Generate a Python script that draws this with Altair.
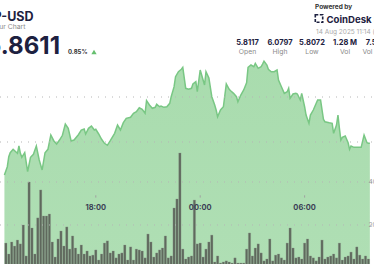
import altair as alt
import pandas as pd

# ---------------- data ----------------
price_times = ["12:45","12:55","13:00","13:05","13:15","13:25","13:30","13:35","13:40","13:45",
"13:55","14:05","14:15","14:25","14:35","14:45","14:55","15:05","15:15","15:25",
"15:35","15:45","15:55","16:05","16:15","16:25","16:35","16:45","17:00","17:10",
"17:20","17:25","17:35","17:45","17:55","18:00","18:10","18:20","18:30","18:40",
"18:50","19:05","19:15","19:25","19:35","19:45","20:00","20:10","20:20","20:30",
"20:40","20:50","20:55","21:05","21:15","21:25","21:30","21:40","21:45","21:55",
"22:05","22:15","22:20","22:30","22:35","22:45","22:55","23:00","23:10","23:20",
"23:30","23:35","23:45","23:50","00:00","00:05","00:15","00:20","00:30","00:40",
"00:50","00:55","01:00","01:10","01:20","01:30","01:40","01:45","01:55","02:05",
"02:10","02:20","02:30","02:40","02:45","02:55","03:05","03:10","03:20","03:30",
"03:35","03:40","03:50","03:55","04:05","04:15","04:25","04:30","04:40","04:50",
"05:00","05:05","05:10","05:20","05:30","05:35","05:45","05:50","06:00","06:05",
"06:15","06:20","06:30","06:40","06:45","06:55","07:05","07:10","07:25","07:35",
"07:40","07:50","07:55","08:00","08:05","08:10","08:20","08:30","08:35","08:40",
"08:50","09:00","09:15","09:25","09:35","09:40","09:45"]
price_values = [5.8267,5.8451,5.8673,5.8762,5.8838,5.8778,5.8749,5.8911,5.8749,5.8660,
5.8762,5.8340,5.8660,5.8727,5.8911,5.8600,5.8378,5.8762,5.8838,5.9156,
5.9029,5.8956,5.9044,5.9149,5.9400,5.9304,5.9022,5.9044,5.9162,5.9267,
5.9289,5.9178,5.9304,5.9356,5.9267,5.9282,5.9178,5.9060,5.8971,5.8927,
5.9029,5.9193,5.9378,5.9267,5.9429,5.9527,5.9549,5.9638,5.9673,5.9762,
5.9727,5.9638,5.9918,5.9822,5.9749,5.9771,5.9838,5.9784,5.9800,5.9771,
5.9784,5.9860,6.0007,6.0229,6.0451,6.0562,6.0616,6.0660,6.0193,6.0171,
6.0193,6.0289,6.0340,6.0118,6.0600,6.0489,6.0267,6.0562,6.0422,6.0007,
5.9822,5.9711,5.9562,5.9711,5.9784,6.0289,6.0171,6.0140,6.0082,6.0007,
5.9896,6.0044,6.0156,6.0318,6.0660,6.0711,6.0673,6.0749,6.0638,6.0673,
6.0733,6.0797,6.0711,6.0616,6.0562,6.0562,6.0600,6.0378,6.0229,6.0082,
6.0118,6.0193,5.9971,6.0067,6.0082,6.0067,5.9933,6.0082,5.9784,5.9600,
5.9416,5.9600,5.9711,5.9860,5.9933,5.9933,5.9504,5.9451,5.9429,5.9416,
5.9193,5.9378,5.9600,5.9304,5.9044,5.9104,5.9133,5.8984,5.8838,5.8911,
5.8882,5.8882,5.8882,5.9156,5.8984,5.8971,5.8971]

# 10-minute volume bars (thousands), first bar at 12:50
vol_first = "2025-08-13T12:50:00Z"
vol_values = [11.6,6.5,12.1,10.2,13.0,11.2,20.0,5.6,40.0,18.6,
6.5,23.3,36.3,24.2,24.2,25.1,12.1,5.1,13.5,17.2,
10.2,19.1,8.8,14.9,9.3,6.5,10.7,6.5,7.9,5.6,
6.0,8.4,3.7,6.5,11.6,12.6,7.0,7.9,4.7,6.5,
7.0,10.7,
3.7,9.8,3.7,8.8,8.4,7.9,4.7,15.8,12.1,5.1,
7.0,8.4,9.3,14.9,4.7,5.6,27.9,32.1,53.5,8.8,
4.2,5.1,5.6,31.6,11.2,11.6,5.1,8.8,12.1,15.3,
2.8,5.6,2.3,2.8,3.3,2.8,2.3,4.7,2.3,2.3,
2.3,8.8,
16.3,5.6,9.3,11.2,7.0,3.3,4.2,13.5,3.3,6.0,
6.5,4.7,3.7,11.6,18.6,9.3,4.7,5.1,4.2,11.6,
13.5,5.6,4.7,3.3,5.1,13.0,4.2,5.1,5.6,6.5,
4.7,11.6,3.7,5.1,5.6,7.4,4.2,9.8,6.0,4.2,
5.6,4.2]

price_grid = [5.9, 6.0]
vol_grid = [20, 40]
vol_grid_labels = ["20K", "40K"]
time_ticks = ["2025-08-13T18:00:00Z", "2025-08-14T00:00:00Z", "2025-08-14T06:00:00Z"]
time_labels = ["18:00", "00:00", "06:00"]

stat_values = ["5.8117", "6.0797", "5.8072", "1.28 M", "7.50 M"]
stat_names = ["Open", "High", "Low", "Vol", "Vol (USD)"]

ticker = "P-USD"
subtitle = "24 Hour Chart"
last_price = "5.8611"
change_pct = "0.85%"
powered = "Powered by"
brand = "CoinDesk Data"
stamp = "14 Aug 2025 11:14 (UTC)"

# ---------------- tables ----------------
def iso(hhmm):
    h, m = map(int, hhmm.split(":"))
    day = 13 if h >= 12 else 14
    return f"2025-08-{day:02d}T{h:02d}:{m:02d}:00Z"

price_df = pd.DataFrame({"t": [iso(s) for s in price_times], "price": price_values})
vol_times = pd.date_range(vol_first, periods=len(vol_values), freq="10min")
vol_df = pd.DataFrame({"t": [d.strftime("%Y-%m-%dT%H:%M:%SZ") for d in vol_times], "vol": vol_values})
pgrid_df = pd.DataFrame({"p": price_grid})
vgrid_df = pd.DataFrame({"v": vol_grid, "label": vol_grid_labels})
tlab_df = pd.DataFrame({"t": time_ticks, "label": time_labels})

W, H = 374, 264
FONT = "Inter"
DARK = "#1d2140"

xscale = alt.Scale(type="utc", domain=[
    alt.DateTime(year=2025, month=8, date=13, hours=12, minutes=47, utc=True),
    alt.DateTime(year=2025, month=8, date=14, hours=9, minutes=42, utc=True)])
pscale = alt.Scale(domain=[5.6289, 6.2156], nice=False, zero=False)
vscale = alt.Scale(domain=[1.86, 124.65], nice=False, zero=False)

X = alt.X("t:T", scale=xscale, axis=None)

grad = alt.Gradient(gradient="linear",
                    stops=[alt.GradientStop(color="#a9dcae", offset=0),
                           alt.GradientStop(color="#c6e8ca", offset=0.35),
                           alt.GradientStop(color="#dcf1de", offset=0.65),
                           alt.GradientStop(color="#eff9f0", offset=1)],
                    x1=1, x2=1, y1=0, y2=1)

area = alt.Chart(price_df).mark_area(fill=grad, interpolate="linear").encode(
    x=X, y=alt.Y("price:Q", scale=pscale, axis=None), y2=alt.value(H))
line = alt.Chart(price_df).mark_line(color="#79c784", strokeWidth=1.5, interpolate="linear").encode(
    x=X, y=alt.Y("price:Q", scale=pscale, axis=None))
pgrid = alt.Chart(pgrid_df).mark_rule(color="#b5b5b5", strokeDash=[1, 6], strokeWidth=1).encode(
    y=alt.Y("p:Q", scale=pscale, axis=None), x=alt.value(0), x2=alt.value(W))
price_layer = alt.layer(area, line, pgrid)

bars = alt.Chart(vol_df).mark_bar(size=2.3, color="#5f695d", stroke="#8d978b", strokeWidth=0.3).encode(
    x=X, y=alt.Y("vol:Q", scale=vscale, axis=None), y2=alt.datum(0))
vgrid = alt.Chart(vgrid_df).mark_rule(color="#b5b5b5", strokeDash=[1, 6], strokeWidth=1).encode(
    y=alt.Y("v:Q", scale=vscale, axis=None), x=alt.value(0), x2=alt.value(W))
vlab = alt.Chart(vgrid_df).mark_text(align="left", baseline="middle", font=FONT, fontSize=6.5,
                                     color="#9a9a9a").encode(
    y=alt.Y("v:Q", scale=vscale, axis=None), x=alt.value(368.5), text="label:N")
vol_layer = alt.layer(bars, vgrid, vlab)

tticks = alt.Chart(tlab_df).mark_rule(color="#a0a0a0", strokeWidth=1).encode(
    x=X, y=alt.value(195.3), y2=alt.value(197.6))
tlabs = alt.Chart(tlab_df).mark_text(font=FONT, fontSize=7.5, fontWeight="bold", color="#3b3f55",
                                     baseline="alphabetic").encode(
    x=X, y=alt.value(209.5), text="label:N")

def txt(s, x, y, size, color=DARK, weight="normal", align="left"):
    return alt.Chart(pd.DataFrame({"s": [s]})).mark_text(
        font=FONT, fontSize=size, fontWeight=weight, color=color, align=align,
        baseline="alphabetic").encode(x=alt.value(x), y=alt.value(y), text="s:N")

hdr = [
    txt(ticker, 33.5, 21, 12.5, weight="bold", align="right"),
    txt(subtitle, 25.5, 29, 6.8, color="#8a8a8a", align="right"),
    txt(last_price, 60, 54, 24, weight="bold", align="right"),
    txt(change_pct, 68, 53.5, 6, color="#333333", weight="bold"),
    txt(powered, 315, 9, 6.5, color="#333333", weight="bold"),
    txt(brand, 326.5, 22.5, 9.6, weight="bold"),
    txt(stamp, 316, 34, 6.5, color="#aaaaaa"),
]
tri = alt.Chart(pd.DataFrame({"a": [1]})).mark_point(shape="triangle-up", filled=True, size=28,
                                                      color="#66bf6f", opacity=1).encode(
    x=alt.value(94), y=alt.value(52))
logo = alt.Chart(pd.DataFrame({"a": [1]})).mark_point(shape="square", filled=False, size=55,
                                                       color=DARK, strokeWidth=1.6,
                                                       strokeDash=[3, 1.5], opacity=1).encode(
    x=alt.value(319), y=alt.value(18.5))

stat_layers = []
for v, n, p in zip(stat_values, stat_names, [247.5, 280, 312, 345, 378]):
    stat_layers.append(txt(v, p, 45, 7.5, weight="bold", align="center"))
    stat_layers.append(txt(n, p, 54, 6.8, color="#8a8a8a", align="center"))

chart = alt.layer(price_layer, vol_layer, tticks, tlabs, *hdr, tri, logo, *stat_layers).properties(
    width=W, height=H, padding=0, autosize="none", background="white"
).resolve_scale(y="independent").configure_view(stroke=None)

chart.save("out.html", embed_options={"renderer": "svg", "actions": False})
